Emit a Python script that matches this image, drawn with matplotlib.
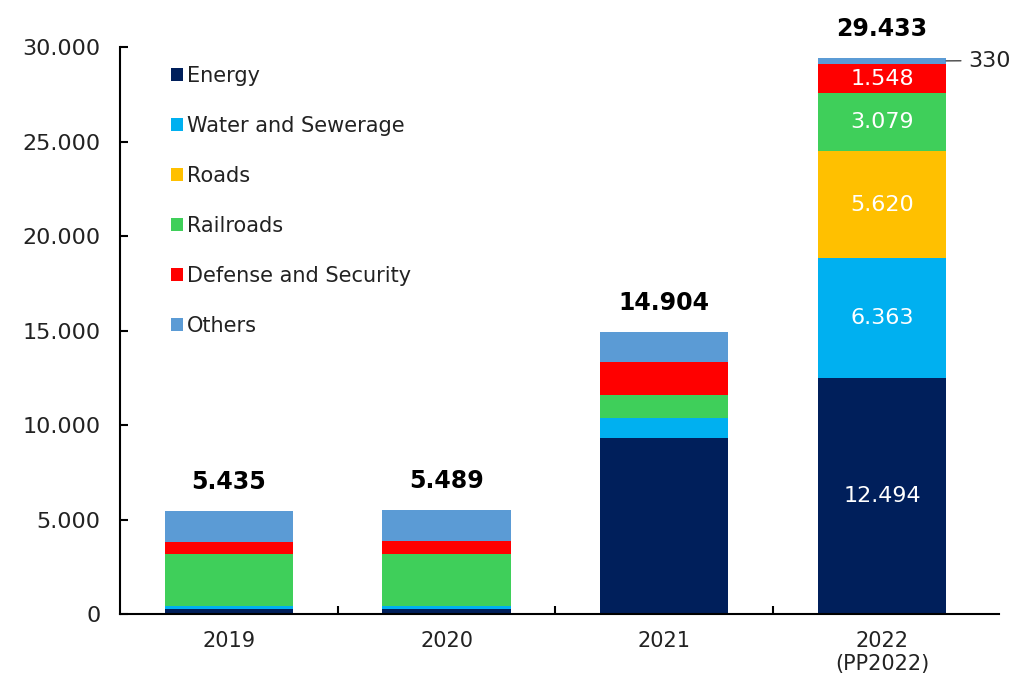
import matplotlib.pyplot as plt
import numpy as np

plt.rcParams['font.family'] = ['DejaVu Sans']

years = ['2019', '2020', '2021', '2022\n(PP2022)']
sectors = ['Energy', 'Water and Sewerage', 'Roads', 'Railroads', 'Defense and Security', 'Others']
colors = ['#001f5b', '#00b0f0', '#ffc000', '#3fcf5a', '#ff0000', '#5b9bd5']

energy = [250, 250, 9300, 12494]
water = [190, 190, 1090, 6363]
roads = [0, 0, 0, 5620]
railroads = [2720, 2720, 1200, 3079]
defense = [650, 720, 1760, 1548]
others = [1625, 1609, 1554, 330]
totals = ['5.435', '5.489', '14.904', '29.433']

series = [energy, water, roads, railroads, defense, others]

fig = plt.figure(figsize=(10.19, 6.79), dpi=100)
ax = fig.add_axes([0.1178, 0.0957, 0.863, 0.835])

x = np.arange(len(years))
bottom = np.zeros(len(years))
for vals, name, c in zip(series, sectors, colors):
    ax.bar(x, vals, 0.59, bottom=bottom, color=c, label=name)
    bottom += np.array(vals)

# white labels inside the 2022 bar
b = 0
for vals in series[:-1]:
    v = vals[3]
    ax.text(3, b + v / 2, f'{v / 1000:.3f}', color='white', ha='center', va='center', fontsize=16)
    b += v

# small 'Others' value on 2022, with a short leader line to the bar
ax.annotate('330', xy=(3 + 0.295, bottom[3] - others[3] / 2), xytext=(3.395, bottom[3] - 150),
            fontsize=16, va='center', ha='left', color='#222222',
            arrowprops=dict(arrowstyle='-', color='#444444', lw=1, shrinkA=3, shrinkB=0))

for i, t in enumerate(totals):
    ax.text(i, bottom[i] + 900, t, ha='center', va='bottom', fontsize=17, fontweight='bold')

ax.set_xlim(-0.5, 3.54)
ax.set_ylim(0, 30000)
ax.set_yticks(np.arange(0, 30001, 5000))
ax.set_yticklabels(['0', '5.000', '10.000', '15.000', '20.000', '25.000', '30.000'])
ax.set_xticks(x)
ax.set_xticklabels(years)
ax.set_xticks([0.5, 1.5, 2.5], minor=True)
ax.tick_params(axis='x', which='major', length=0, labelsize=15, pad=12, labelcolor='#222222')
ax.tick_params(axis='x', which='minor', length=6, width=1.5, direction='in')
ax.tick_params(axis='y', length=6, width=1.5, direction='in', labelsize=16, pad=14, labelcolor='#222222')
for s in ['top', 'right']:
    ax.spines[s].set_visible(False)
for s in ['left', 'bottom']:
    ax.spines[s].set_linewidth(1.5)

ax.legend(loc='upper left', bbox_to_anchor=(0.037, 1.0), frameon=False, fontsize=15,
          handlelength=0.55, handleheight=0.55, handletextpad=0.2, labelspacing=1.44,
          labelcolor='#222222')

fig.savefig('out.png', dpi=100)
